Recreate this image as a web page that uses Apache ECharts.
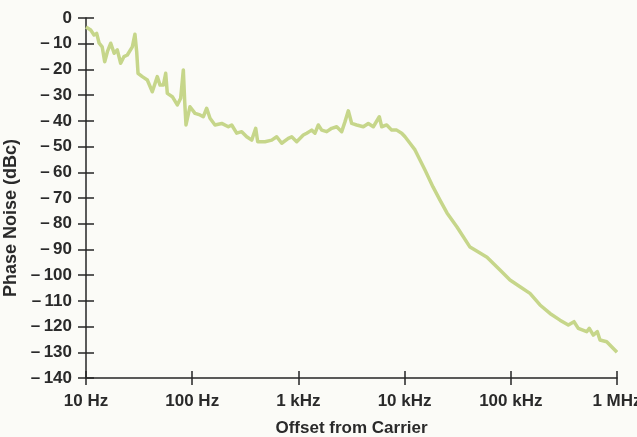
<!DOCTYPE html>
<html>
<head>
<meta charset="utf-8">
<script src="https://cdn.jsdelivr.net/npm/echarts@6/dist/echarts.min.js"></script>
<style>
  html, body { margin: 0; padding: 0; background: #fbfbf7; }
  #chart { width: 637px; height: 437px; }
</style>
</head>
<body>
<div id="chart"></div>
<script>
// offset frequency (Hz) and phase noise (dBc)
const freqHz = [
  10, 10.15, 11.07, 11.9, 12.6, 13.3, 14.2, 15.0, 15.9, 17.1, 18.4, 19.7, 21.2, 22.8, 24.5,
  27.3, 28.9, 30.0, 30.9, 33.9, 37.8, 42.1, 46.9, 49.8, 53.5, 56.3, 58.3, 65.0, 72.4, 77.9,
  82.5, 85.0, 87.4, 95.3, 106.3, 118.4, 127.2, 136.9, 147.1, 163.9, 189.6, 218.8, 235.5, 262.4,
  292.5, 326.1, 363.4, 396.2, 413.8, 484.8, 560.7, 624.8, 696.2, 803.4, 864.8, 963.8,
  1112, 1197, 1334, 1433, 1540, 1658, 1847, 2058, 2294, 2557, 2748, 2951, 3177, 3540,
  4085, 4551, 5074, 5779, 6087, 6784, 7560, 8427, 9391, 10090, 11240, 12530,
  15560, 18510, 21540, 25070, 31140, 41290, 51290, 59690, 79120, 98280, 122100, 151600,
  188400, 233900, 290600, 347900, 393700, 432100, 518400, 548500, 598200, 652500, 691700,
  799900, 1000000
];
const noiseDbc = [
  -3.5, -3.8, -4.7, -6.6, -6.0, -9.8, -11.2, -17.0, -13.1, -9.8, -13.7, -12.4, -17.6, -15.0, -14.4,
  -11.2, -6.3, -13.1, -21.5, -22.8, -24.1, -28.7, -22.8, -26.1, -26.1, -21.5, -29.3, -30.6, -33.8, -31.2,
  -20.2, -32.6, -41.6, -34.5, -37.1, -37.7, -38.4, -35.1, -39.0, -41.6, -41.0, -42.3, -41.6, -44.8,
  -44.2, -46.2, -47.5, -42.9, -48.1, -48.1, -47.5, -46.2, -48.7, -46.8, -46.2, -48.1,
  -45.5, -44.8, -43.6, -44.8, -41.6, -43.6, -44.2, -42.9, -42.3, -44.2, -40.3, -36.1, -41.0, -41.6,
  -42.3, -41.0, -42.3, -38.4, -42.3, -41.6, -43.6, -43.6, -44.8, -46.2, -48.7, -51.3,
  -59.1, -65.7, -70.8, -75.8, -81.3, -89.1, -91.4, -93.0, -98.0, -101.9, -104.5, -107.1,
  -111.6, -114.9, -117.5, -119.4, -118.1, -120.7, -122.0, -120.7, -123.3, -122.0, -125.2,
  -125.9, -130.0
];
const freqLabels = { 10: '10 Hz', 100: '100 Hz', 1000: '1 kHz', 10000: '10 kHz', 100000: '100 kHz', 1000000: '1 MHz' };

const chart = echarts.init(document.getElementById('chart'));

const axisColor = '#262626';
const labelFont = { fontFamily: 'Liberation Sans', fontWeight: 'bold', fontSize: 17, color: '#2a2a2a' };

chart.setOption({
  backgroundColor: '#fbfbf7',
  animation: false,
  grid: { left: 86, right: 20, top: 18, bottom: 59, outerBoundsMode: 'none', containLabel: false },
  xAxis: [
    {
      type: 'log', logBase: 10, min: 10, max: 1000000,
      name: 'Offset from Carrier', nameLocation: 'middle', nameGap: 42,
      nameTextStyle: Object.assign({}, labelFont),
      axisLine: { onZero: false, lineStyle: { color: axisColor, width: 1.5 } },
      axisTick: { length: 7, lineStyle: { color: axisColor, width: 1.5 } },
      axisLabel: Object.assign({ margin: 15, formatter: v => freqLabels[Math.round(v)] || '' }, labelFont),
      splitLine: { show: false },
      minorTick: { show: false }
    },
    {
      type: 'log', logBase: 10, min: 10, max: 1000000, position: 'bottom',
      axisLine: { show: false, onZero: false },
      axisTick: { inside: true, length: 7, lineStyle: { color: axisColor, width: 1.5 } },
      axisLabel: { show: false },
      splitLine: { show: false }
    }
  ],
  yAxis: [
    {
      type: 'value', min: -140, max: 0, interval: 10,
      name: 'Phase Noise (dBc)', nameLocation: 'middle', nameGap: 62, nameRotate: 90,
      // the printed title sits a little below the axis centre
      nameTextStyle: Object.assign({}, labelFont, { fontSize: 18, padding: [0, 40, 0, 0] }),
      axisLine: { show: true, onZero: false, lineStyle: { color: axisColor, width: 1.5 } },
      axisTick: { show: true, length: 8, lineStyle: { color: axisColor, width: 1.5 } },
      axisLabel: Object.assign({ margin: 14, formatter: v => v === 0 ? '0' : '\u2013\u2009' + Math.abs(v) }, labelFont),
      splitLine: { show: false }
    },
    {
      type: 'value', min: -140, max: 0, interval: 10, position: 'left',
      axisLine: { show: false, onZero: false },
      axisTick: { show: true, inside: true, length: 8, lineStyle: { color: axisColor, width: 1.5 } },
      axisLabel: { show: false },
      splitLine: { show: false }
    }
  ],
  series: [
    {
      type: 'line',
      xAxisIndex: 0,
      yAxisIndex: 0,
      data: freqHz.map((f, i) => [f, noiseDbc[i]]),
      showSymbol: false,
      lineStyle: { color: '#c6d68a', width: 3.5, join: 'round' },
      silent: true
    }
  ]
});
</script>
</body>
</html>
